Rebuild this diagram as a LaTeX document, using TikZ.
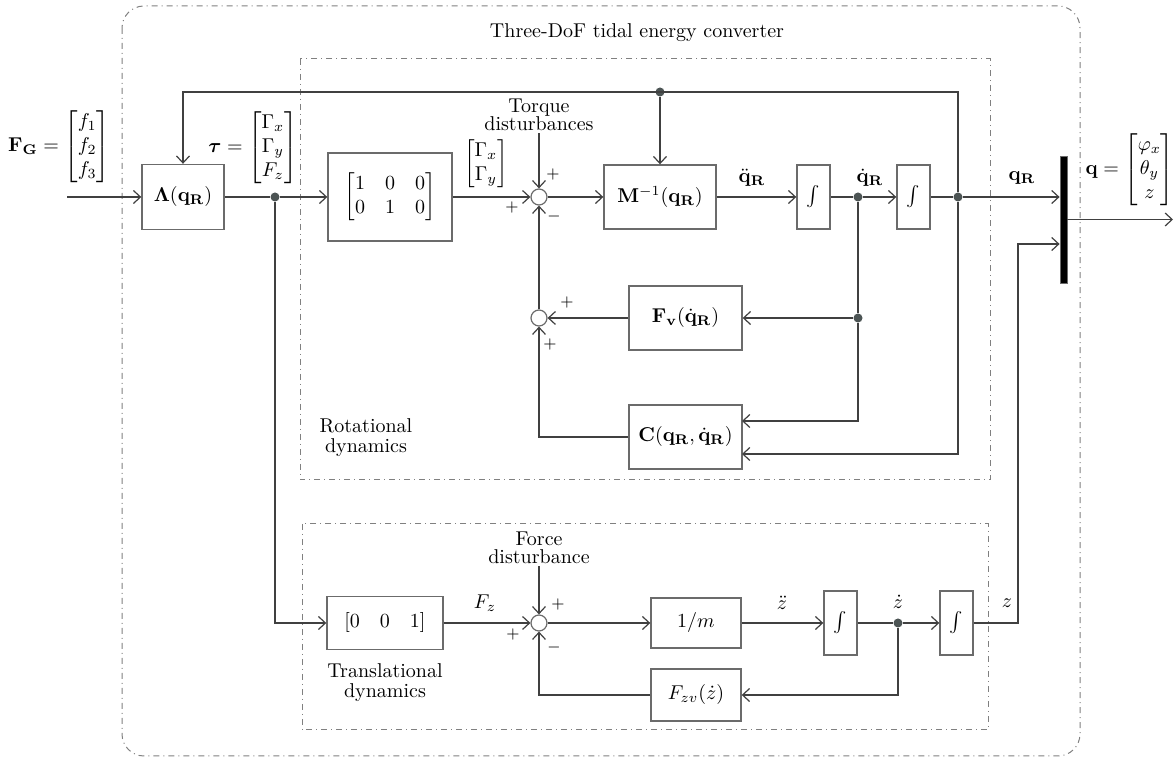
\documentclass[tikz,border=0pt]{standalone}
\usepackage{amsmath,amssymb}
\usepackage{tikz}
\usetikzlibrary{arrows.meta}
\definecolor{linegray}{rgb}{0.25,0.25,0.25}
\definecolor{boxgray}{rgb}{0.42,0.42,0.42}
\definecolor{dashgray}{rgb}{0.5,0.5,0.5}
\definecolor{dotgray}{rgb}{0.3,0.33,0.33}

\begin{document}
\begin{tikzpicture}[x=0.5pt,y=-0.5pt,
    >={Straight Barb[length=3.5pt,width=6.5pt]},
    line/.style={linegray, line width=0.6pt},
    blk/.style 2 args={draw=boxgray, line width=0.7pt, inner sep=0pt,
      minimum width=#1, minimum height=#2},
    integ/.style={blk={16.5pt}{32pt}},
    sum/.style={circle, draw=boxgray, line width=0.6pt, inner sep=0pt, minimum size=8pt},
    dot/.style={circle, fill=dotgray, inner sep=0pt, minimum size=4.5pt},
    sgn/.style={font=\footnotesize, inner sep=0pt},
    lbl/.style={inner sep=1pt},
    frame/.style={dashgray, line width=0.5pt, dash dot}]
    \useasboundingbox (0,0) rectangle (1175,758);
    % Frames
    \draw[frame, rounded corners=11pt] (122,6) rectangle (1080,756);
    \draw[frame] (300,59) rectangle (990,480);
    \draw[frame] (302,524) rectangle (988,730);
    \node (title) at (637,33) {Three-DoF tidal energy converter};
    \node[align=center] (rotlbl) at (366,438) {Rotational\\[-2pt]dynamics};
    \node[align=center] (trlbl) at (385,683) {Translational\\[-2pt]dynamics};
    % Define blocks
    \node[blk={41pt}{32.5pt}] (lam) at (183,197) {$\boldsymbol{\Lambda}(\mathbf{q}_{\mathbf{R}})$};
    \node[blk={62pt}{44pt}] (sel) at (390,197)
      {$\begin{bmatrix} 1 & 0 & 0\\ 0 & 1 & 0\end{bmatrix}$};
    \node[blk={56pt}{32pt}] (minv) at (660,197) {$\mathbf{M}^{-1}(\mathbf{q}_{\mathbf{R}})$};
    \node[integ] (int1) at (813.5,197) {$\int$};
    \node[integ] (int2) at (913.5,197) {$\int$};
    \node[blk={56.5pt}{32pt}] (fv) at (685.5,318) {$\mathbf{F}_{\mathbf{v}}(\dot{\mathbf{q}}_{\mathbf{R}})$};
    \node[blk={56.5pt}{32pt}] (cmat) at (685.5,437)
      {$\mathbf{C}(\mathbf{q}_{\mathbf{R}},\dot{\mathbf{q}}_{\mathbf{R}})$};
    \node[blk={58pt}{26.5pt}] (selz) at (385,623) {$[0 \quad 0 \quad 1]$};
    \node[blk={45pt}{25pt}] (invm) at (696,623) {$1/m$};
    \node[blk={45pt}{26pt}] (fzv) at (696,695) {$F_{zv}(\dot{z})$};
    \node[integ] (int3) at (840.5,623) {$\int$};
    \node[integ] (int4) at (956.5,623) {$\int$};
    \node[fill=black, draw=boxgray, minimum width=3.5pt, minimum height=63.5pt, inner sep=0pt] (mux) at (1063.5,219.5) {};
    % Sums and branch points
    \node[sum] (sum1) at (539,197) {};
    \node[sum] (sum2) at (539,318) {};
    \node[sum] (sum3) at (539,623) {};
    \node[dot] (dtau) at (275,197) {};
    \node[dot] (dtop) at (660,92) {};
    \node[dot] (dq1) at (858,197) {};
    \node[dot] (dq2) at (958,197) {};
    \node[dot] (dq3) at (858,318) {};
    \node[dot] (dz) at (898,623) {};
    \coordinate (fin) at (67,197);
    \coordinate (tl) at (183,92);
    \coordinate (tr) at (958,92);
    \coordinate (cin1) at (742,421);
    \coordinate (cin2) at (742,454);
    \coordinate (zup) at (1018,244);
    \coordinate (qout) at (1173,219.5);
    % Disturbances
    \node[align=center, inner sep=1pt] (tq) at (539,115) {Torque\\[-3pt]disturbances};
    \node[align=center, inner sep=1pt] (fd) at (539,548) {Force\\[-3pt]disturbance};
    % Signals, top row
    \draw[line,->] (fin) -- (lam.west);
    \draw[line] (lam.east) -- (dtau);
    \draw[line,->] (dtau) -- (sel.west);
    \draw[line,->] (sel.east) -- (sum1.west);
    \draw[line,->] (tq.south) -- (sum1.north);
    \draw[line,->] (sum1.east) -- (minv.west);
    \draw[line,->] (minv.east) -- (int1.west);
    \draw[line] (int1.east) -- (dq1);
    \draw[line,->] (dq1) -- (int2.west);
    \draw[line] (int2.east) -- (dq2);
    \draw[line,->] (dq2) -- (mux.west |- dq2);
    \draw[line,->] (mux.east) -- (qout);
    \draw[line,->] (dq2) -- (tr) -- (tl) -- (lam.north);
    \draw[line,->] (dtop) -- (minv.north);
    % Feedback, rotational
    \draw[line] (dq1) -- (dq3);
    \draw[line,->] (dq3) -- (fv.east);
    \draw[line,->] (dq3) |- (cin1);
    \draw[line,->] (dq2) |- (cin2);
    \draw[line,->] (fv.west) -- (sum2.east);
    \draw[line,->] (cmat.west) -| (sum2.south);
    \draw[line,->] (sum2.north) -- (sum1.south);
    % Translational
    \draw[line,->] (dtau) |- (selz.west);
    \draw[line,->] (selz.east) -- (sum3.west);
    \draw[line,->] (fd.south) -- (sum3.north);
    \draw[line,->] (sum3.east) -- (invm.west);
    \draw[line,->] (invm.east) -- (int3.west);
    \draw[line] (int3.east) -- (dz);
    \draw[line,->] (dz) -- (int4.west);
    \draw[line,->] (dz) |- (fzv.east);
    \draw[line,->] (fzv.west) -| (sum3.south);
    \draw[line,->] (int4.east) -| (zup) -- (mux.west |- zup);
    % Signs
    \node[sgn] (s1a) at (553,175) {$+$};
    \node[sgn] (s1b) at (512,208) {$+$};
    \node[sgn] (s1c) at (554,217) {$-$};
    \node[sgn] (s2a) at (567,303) {$+$};
    \node[sgn] (s2b) at (550,345) {$+$};
    \node[sgn] (s3a) at (558,605) {$+$};
    \node[sgn] (s3b) at (513,635) {$+$};
    \node[sgn] (s3c) at (554,648) {$-$};
    % Signal labels
    \node[lbl] (fg) at (59,147) {$\mathbf{F}_{\mathbf{G}} = \begin{bmatrix} f_1\\ f_2\\ f_3\end{bmatrix}$};
    \node[lbl] (tau) at (253,148) {$\boldsymbol{\tau} = \begin{bmatrix} \Gamma_x\\ \Gamma_y\\ F_z\end{bmatrix}$};
    \node[lbl] (gxy) at (486,164) {$\begin{bmatrix} \Gamma_x\\ \Gamma_y\end{bmatrix}$};
    \node[lbl] (qdd) at (752,178) {$\ddot{\mathbf{q}}_{\mathbf{R}}$};
    \node[lbl] (qd) at (870,178) {$\dot{\mathbf{q}}_{\mathbf{R}}$};
    \node[lbl] (qr) at (1022,178) {$\mathbf{q}_{\mathbf{R}}$};
    \node[lbl] (qv) at (1130,170) {$\mathbf{q} = \begin{bmatrix} \varphi_x\\ \theta_y\\ z\end{bmatrix}$};
    \node[lbl] (fzl) at (485,603) {$F_z$};
    \node[lbl] (zdd) at (782,603) {$\ddot{z}$};
    \node[lbl] (zd) at (898,602) {$\dot{z}$};
    \node[lbl] (zl) at (1007,603) {$z$};
\end{tikzpicture}
\end{document}
